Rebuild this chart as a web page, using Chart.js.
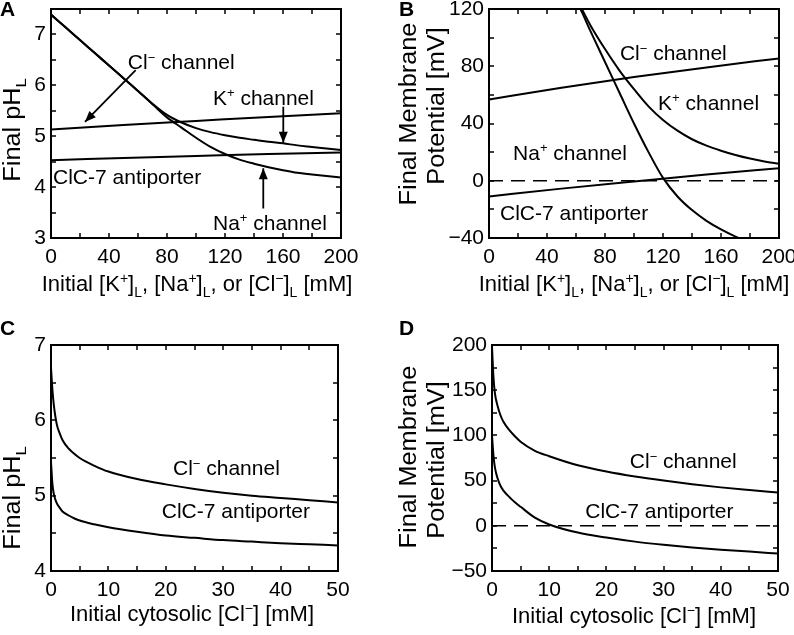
<!DOCTYPE html>
<html><head><meta charset="utf-8">
<script src="https://cdn.jsdelivr.net/npm/chart.js@4.4.0/dist/chart.umd.min.js"></script>
<style>
html,body{margin:0;padding:0;background:#fff;}
#wrap{position:relative;width:794px;height:635px;overflow:hidden;background:#fff;}
canvas{position:absolute;}
</style></head><body>
<div id="wrap">
<canvas id="cA" width="397" height="317" style="left:0;top:0"></canvas>
<canvas id="cB" width="397" height="317" style="left:397px;top:0"></canvas>
<canvas id="cC" width="397" height="318" style="left:0;top:317px"></canvas>
<canvas id="cD" width="397" height="318" style="left:397px;top:317px"></canvas>
</div>
<script>
// ---------- Panel A: final pH_L vs initial lumenal concentration [mM] ----------
const concA   = [0,10,20,30,40,50,60,70,80,90,100,110,120,130,140,150,160,170,180,190,200];
const kChanA  = [7.39,7.14,6.89,6.64,6.39,6.14,5.89,5.64,5.42,5.27,5.16,5.08,5.02,4.97,4.93,4.89,4.86,4.82,4.79,4.76,4.73];
const naChanA = [7.39,7.14,6.89,6.64,6.39,6.14,5.89,5.63,5.37,5.17,4.97,4.79,4.65,4.54,4.46,4.39,4.33,4.28,4.25,4.22,4.19];
const concLineA = [0,50,100,150,200];
const clChanA = [5.13,5.22,5.30,5.38,5.45];
const clc7A   = [4.53,4.57,4.61,4.65,4.68];

// ---------- Panel B: final membrane potential [mV] vs initial lumenal concentration ----------
const kConcB  = [55,64,70,80,90,100,110,120,130,140,150,160,170,180,190,200];
const kChanB  = [136,120,108.5,92,77,64,52,42.5,35,29,24.5,21,18,15.5,13.5,12];
const naConcB = [55,64,70,80,90,100,110,120,130,140,150,160,170,180];
const naChanB = [137,118,104.5,83,61.5,40,20,2,-11,-20.5,-28,-34,-39,-43.2];
const concLineB = [0,50,100,150,200];
const clChanB = [56.8,65,72.5,79.2,85.5];
const clc7B   = [-11,-5.5,-0.5,4.3,8.8];
const zeroB_x = [0,200];
const zeroB   = [0,0];

// ---------- Panels C & D: vs initial cytosolic [Cl-] [mM] ----------
const cytoCl  = [0,0.25,0.5,1,1.5,2,3,4,5,7.5,10,15,20,25,30,35,40,45,50];
const clChanC = [6.7,6.4,6.2,5.95,5.83,5.74,5.63,5.56,5.5,5.4,5.32,5.22,5.15,5.09,5.04,5.0,4.97,4.94,4.91];
const clc7C   = [5.45,5.15,5.02,4.9,4.84,4.79,4.74,4.7,4.67,4.62,4.58,4.52,4.47,4.44,4.41,4.39,4.37,4.355,4.34];
const clChanD = [198,165,147,132,122,115,106,99,93,83,77,67,60,54.5,50,46,42.5,39.5,36.7];
const clc7D   = [100,78,65,52,44,39,32,26,21,9,1.5,-7.5,-13,-17.5,-21,-24,-26.5,-28.5,-30.7];
const zeroD_x = [0,50];
const zeroD   = [0,0];

// ---------- tick settings ----------
const xTicksA = {min:0, max:200, step:20, label:40};
const yTicksA = {min:3, max:7.5, step:0.5, label:1};
const yTicksB = {min:-40, max:120, step:20, label:40};
const xTicksC = {min:0, max:50, step:5, label:10};
const yTicksC = {min:4, max:7, step:0.5, label:1};
const yTicksD = {min:-50, max:200, step:25, label:50};

const FONT = '"Liberation Sans", Arial, Helvetica, sans-serif';
const TICK_SIZE = 21, TEXT_SIZE = 21, XTITLE_SIZE = 22, YTITLE_SIZE = 23;

function parseRich(s){
  const out=[]; const re=/([\^_])\{([^}]*)\}/g; let last=0,m;
  while((m=re.exec(s))){
    if(m.index>last) out.push({t:s.slice(last,m.index),k:'n'});
    out.push({t:m[2],k:m[1]==='^'?'sup':'sub'}); last=re.lastIndex;
  }
  if(last<s.length) out.push({t:s.slice(last),k:'n'});
  return out;
}
function drawRich(ctx, s, x, y, o){
  const parts=parseRich(s), size=o.size;
  const fontFor=k=>(o.bold?'bold ':'')+(k==='n'?size:Math.round(size*0.64))+'px '+FONT;
  let w=0;
  for(const p of parts){ctx.font=fontFor(p.k); p.w=ctx.measureText(p.t).width; w+=p.w;}
  ctx.save();
  ctx.translate(x,y);
  if(o.rotate) ctx.rotate(o.rotate);
  if(o.stretch) ctx.scale(o.stretch,1);
  let cx = o.align==='center' ? -w/2 : 0;
  ctx.textAlign='left'; ctx.textBaseline='alphabetic'; ctx.fillStyle='#000';
  const base=size*0.36;
  for(const p of parts){
    ctx.font=fontFor(p.k);
    const dy = p.k==='sup' ? -size*0.36 : (p.k==='sub' ? size*0.26 : 0);
    ctx.fillText(p.t, cx, base+dy); cx+=p.w;
  }
  ctx.restore();
}
function drawArrow(ctx,x1,y1,x2,y2){
  ctx.beginPath(); ctx.moveTo(x1,y1); ctx.lineTo(x2,y2); ctx.stroke();
  const a=Math.atan2(y2-y1,x2-x1), L=11, hw=4.5;
  ctx.beginPath();
  ctx.moveTo(x2,y2);
  ctx.lineTo(x2-L*Math.cos(a)+hw*Math.sin(a), y2-L*Math.sin(a)-hw*Math.cos(a));
  ctx.lineTo(x2-L*Math.cos(a)-hw*Math.sin(a), y2-L*Math.sin(a)+hw*Math.cos(a));
  ctx.closePath(); ctx.fill();
}

function makePlugin(p){
  return {
    id:'panel_'+p.id,
    afterDraw(chart){
      const {ctx, chartArea:a, scales:{x,y}} = chart;
      ctx.save();
      ctx.strokeStyle='#000'; ctx.fillStyle='#000';
      // inward ticks on all four sides
      ctx.lineWidth=1.5; const tl=5;
      ctx.beginPath();
      for(const t of x.ticks){ const px=Math.round(x.getPixelForValue(t.value));
        ctx.moveTo(px,a.bottom); ctx.lineTo(px,a.bottom-tl); ctx.moveTo(px,a.top); ctx.lineTo(px,a.top+tl); }
      for(const t of y.ticks){ const py=Math.round(y.getPixelForValue(t.value));
        ctx.moveTo(a.left,py); ctx.lineTo(a.left+tl,py); ctx.moveTo(a.right,py); ctx.lineTo(a.right-tl,py); }
      ctx.stroke();
      ctx.lineWidth=2;
      ctx.strokeRect(a.left,a.top,a.right-a.left,a.bottom-a.top);
      // arrows
      ctx.lineWidth=1.8;
      for(const ar of (p.arrows||[])){
        drawArrow(ctx, x.getPixelForValue(ar.from[0]), y.getPixelForValue(ar.from[1]),
                       x.getPixelForValue(ar.to[0]), y.getPixelForValue(ar.to[1]));
      }
      // curve labels (anchored in data coordinates)
      for(const t of (p.texts||[])){
        drawRich(ctx, t.s, x.getPixelForValue(t.at[0]), y.getPixelForValue(t.at[1]), {size:TEXT_SIZE, align:'left'});
      }
      // axis titles & panel letter
      drawRich(ctx, p.xTitle.s, p.xTitle.at[0], p.xTitle.at[1], {size:XTITLE_SIZE, align:'center'});
      for(const yt of p.yTitles){
        drawRich(ctx, yt.s, yt.at[0], yt.at[1], {size:YTITLE_SIZE, align:'center', rotate:-Math.PI/2, stretch:1.1});
      }
      drawRich(ctx, p.letter.s, p.letter.at[0], p.letter.at[1], {size:21, align:'left', bold:true});
      ctx.restore();
    }
  };
}

function makeChart(p){
  const canvas=document.getElementById(p.id);
  const W=canvas.width, H=canvas.height;
  const fmt=(v,every)=>(Math.abs(v/every-Math.round(v/every))<1e-6)?String(v).replace('-','\u2212'):'';
  const datasets=p.series.map(s=>({
    data:s.x.map((xv,i)=>({x:xv,y:s.y[i]})),
    borderColor:'#000', borderWidth:s.dash?1.6:2, borderDash:s.dash||[],
    pointRadius:0, fill:false,
    cubicInterpolationMode:s.dash?'default':'monotone', tension:0
  }));
  const tickFont={family:FONT,size:TICK_SIZE};
  new Chart(canvas,{
    type:'line',
    data:{datasets},
    options:{
      responsive:false, animation:false, devicePixelRatio:1, events:[],
      layout:{padding:{left:0,top:p.area.top,right:W-p.area.right,bottom:0}},
      plugins:{legend:{display:false},tooltip:{enabled:false}},
      scales:{
        x:{type:'linear',min:p.xt.min,max:p.xt.max,
           grid:{display:false,drawTicks:false},border:{display:false},
           ticks:{stepSize:p.xt.step,autoSkip:false,maxTicksLimit:30,maxRotation:0,minRotation:0,padding:7,color:'#000',font:tickFont,
                  callback:v=>fmt(v,p.xt.label)},
           afterFit:s=>{s.height=H-p.area.bottom; s.paddingLeft=0; s.paddingRight=0;}},
        y:{type:'linear',min:p.yt.min,max:p.yt.max,
           grid:{display:false,drawTicks:false},border:{display:false},
           ticks:{stepSize:p.yt.step,autoSkip:false,maxTicksLimit:30,padding:5,color:'#000',font:tickFont,
                  callback:v=>fmt(v,p.yt.label)},
           afterFit:s=>{s.width=p.area.left; s.paddingTop=0; s.paddingBottom=0;}}
      }
    },
    plugins:[makePlugin(p)]
  });
}

makeChart({
  id:'cA', area:{left:51,top:9,right:341,bottom:238}, xt:xTicksA, yt:yTicksA,
  series:[{x:concA,y:kChanA},{x:concA,y:naChanA},{x:concLineA,y:clChanA},{x:concLineA,y:clc7A}],
  texts:[{s:'Cl^{\u2212} channel',at:[53,6.46]},{s:'K^{+} channel',at:[111.7,5.77]},
         {s:'ClC-7 antiporter',at:[1.4,4.2]},{s:'Na^{+} channel',at:[111.7,3.31]}],
  arrows:[{from:[58.4,6.30],to:[23.4,5.28]},{from:[160.2,5.58],to:[160.2,4.87]},{from:[146.4,3.58],to:[146.4,4.37]}],
  xTitle:{s:'Initial [K^{+}]_{L}, [Na^{+}]_{L}, or [Cl^{\u2212}]_{L} [mM]',at:[197,283]},
  yTitles:[{s:'Final pH_{L}',at:[12,130]}],
  letter:{s:'A',at:[0,8]}
});
makeChart({
  id:'cB', area:{left:92,top:9,right:382,bottom:238}, xt:xTicksA, yt:yTicksB,
  series:[{x:kConcB,y:kChanB},{x:naConcB,y:naChanB},{x:concLineB,y:clChanB},{x:concLineB,y:clc7B},
          {x:zeroB_x,y:zeroB,dash:[14,8]}],
  texts:[{s:'Cl^{\u2212} channel',at:[90.3,89.3]},{s:'K^{+} channel',at:[116.6,55]},
         {s:'Na^{+} channel',at:[16.6,20.1]},{s:'ClC-7 antiporter',at:[7.6,-21.8]}],
  arrows:[],
  xTitle:{s:'Initial [K^{+}]_{L}, [Na^{+}]_{L}, or [Cl^{\u2212}]_{L} [mM]',at:[237,283]},
  yTitles:[{s:'Final Membrane',at:[11,114]},{s:'Potential [mV]',at:[39,106]}],
  letter:{s:'B',at:[2,8]}
});
makeChart({
  id:'cC', area:{left:51,top:28,right:338,bottom:254}, xt:xTicksC, yt:yTicksC,
  series:[{x:cytoCl,y:clChanC},{x:cytoCl,y:clc7C}],
  texts:[{s:'Cl^{\u2212} channel',at:[21.25,5.37]},{s:'ClC-7 antiporter',at:[19.3,4.8]}],
  arrows:[],
  xTitle:{s:'Initial cytosolic [Cl^{\u2212}] [mM]',at:[192,296]},
  yTitles:[{s:'Final pH_{L}',at:[12,181]}],
  letter:{s:'C',at:[0,10]}
});
makeChart({
  id:'cD', area:{left:95,top:28,right:381,bottom:254}, xt:xTicksC, yt:yTicksD,
  series:[{x:cytoCl,y:clChanD},{x:cytoCl,y:clc7D},{x:zeroD_x,y:zeroD,dash:[14,8]}],
  texts:[{s:'Cl^{\u2212} channel',at:[24.1,72.2]},{s:'ClC-7 antiporter',at:[16.3,16.9]}],
  arrows:[],
  xTitle:{s:'Initial cytosolic [Cl^{\u2212}] [mM]',at:[237,298]},
  yTitles:[{s:'Final Membrane',at:[11,140]},{s:'Potential [mV]',at:[39,143]}],
  letter:{s:'D',at:[2,10]}
});
</script>
</body></html>
